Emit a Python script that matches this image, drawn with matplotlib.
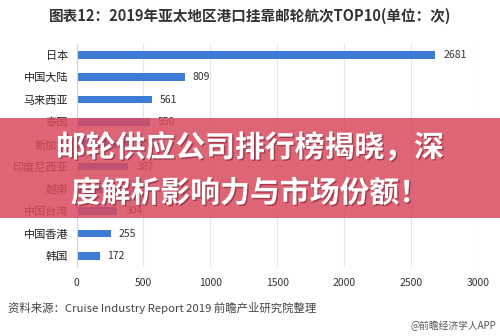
import matplotlib
matplotlib.use("Agg")
import matplotlib.pyplot as plt
import matplotlib.patheffects as pe
from matplotlib.patches import Rectangle

plt.rcParams['font.family'] = ['Noto Sans CJK SC', 'DejaVu Sans']

regions = ['日本', '中国大陆', '马来西亚', '泰国', '新加坡', '印度尼西亚',
           '越南', '中国台湾', '中国香港', '韩国']
calls = [2681, 809, 561, 550, 400, 387, 330, 304, 255, 172]

fig = plt.figure(figsize=(5.0, 3.36), dpi=100)
ax = fig.add_axes([0.153, 0.205, 0.803, 0.665])

y = list(range(len(regions)))
ax.barh(y, calls, height=0.34, color='#3D7DD8')
for yi, v in zip(y, calls):
    ax.text(v + 60, yi, str(v), va='center', ha='left', fontsize=7.5, color='#333333')

ax.set_xlim(0, 3000)
ax.set_ylim(len(regions) - 0.5, -0.5)
ax.set_yticks(y)
ax.set_yticklabels(regions, fontsize=8, color='#222222')
ax.set_xticks(range(0, 3001, 500))
ax.tick_params(axis='x', labelsize=7.5, colors='#333333', length=0, pad=8)
ax.tick_params(axis='y', length=0, pad=6)
ax.grid(axis='x', color='#DDE5EE', linewidth=0.8)
ax.set_axisbelow(True)
for s in ['top', 'right', 'bottom']:
    ax.spines[s].set_visible(False)
ax.spines['left'].set_color('#D0D6DE')

fig.text(0.5, 0.953, '图表12：2019年亚太地区港口挂靠邮轮航次TOP10(单位：次)',
         ha='center', va='center', fontsize=10.5, fontweight='heavy', color='#333333')
fig.text(0.016, 0.083, '资料来源：Cruise Industry Report 2019 前瞻产业研究院整理',
         ha='left', va='center', fontsize=8.2, color='#444444')
fig.text(0.992, 0.03, '@前瞻经济学人APP', ha='right', va='center',
         fontsize=7, color='#555555')

# red headline banner across the middle
fig.patches.append(Rectangle((0, 0.352), 1, 0.298, transform=fig.transFigure,
                             facecolor='#D94A5E', alpha=0.85, zorder=5))
shadow = [pe.withSimplePatchShadow(offset=(1, -1), shadow_rgbFace='#7a2030', alpha=0.6)]
fig.text(0.5, 0.56, '邮轮供应公司排行榜揭晓，深', ha='center', va='center',
         fontsize=21.5, fontweight='heavy', color='white', zorder=6, path_effects=shadow)
fig.text(0.5, 0.425, '度解析影响力与市场份额！', ha='center', va='center',
         fontsize=21.5, fontweight='heavy', color='white', zorder=6, path_effects=shadow)

fig.savefig('out.png', dpi=100)
